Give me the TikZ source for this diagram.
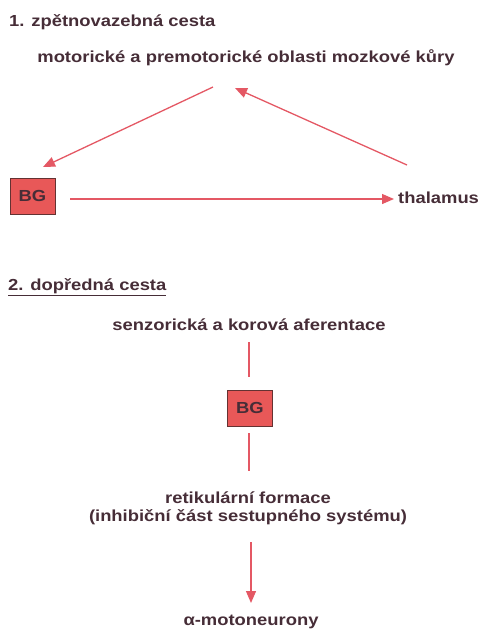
\documentclass[tikz,border=0pt]{standalone}
\usepackage{fontspec}
\setmainfont{Liberation Sans}[FakeStretch=1.15]
\usetikzlibrary{arrows.meta}
\definecolor{txt}{RGB}{70,45,55}
\definecolor{arr}{RGB}{228,88,100}
\definecolor{bgfill}{RGB}{232,88,88}
\definecolor{bgdraw}{RGB}{100,50,50}
\tikzset{
  lbl/.style={text=txt, font=\fontsize{16}{18}\selectfont\bfseries, inner sep=0pt},
  ttl/.style={lbl, anchor=west},
  bgbox/.style={draw=bgdraw, fill=bgfill, line width=1pt, minimum width=45pt, minimum height=36pt, text=txt, font=\fontsize{16}{18}\selectfont\bfseries, inner sep=0pt},
  con/.style={draw=arr, line width=1.3pt},
  conarr/.style={con, -{Triangle[length=12pt,width=10pt]}},
}
\begin{document}
\begin{tikzpicture}[x=1pt,y=-1pt]
\useasboundingbox (0,0) rectangle (480,630);
% part 1
\node[ttl] (t1) at (9,22) {1. zpětnovazebná cesta};
\node[lbl] (cortex) at (246,58) {motorické a premotorické oblasti mozkové kůry};
\node[bgbox] (bg1) at (32.5,196) {BG};
\node[lbl, anchor=west] (thal) at (398,198) {thalamus};
\coordinate (c1s) at (213,87);
\coordinate (c1e) at (43,167);
\coordinate (c2s) at (407,165);
\coordinate (c2e) at (235,88);
\coordinate (c3s) at (70,199);
\coordinate (c3e) at (394,199);
\draw[conarr] (c1s) -- (c1e);
\draw[conarr] (c2s) -- (c2e);
\draw[conarr] (c3s) -- (c3e);
% part 2
\node[ttl] (t2) at (8,287) {\underline{2. dopředná cesta}};
\node[lbl] (senz) at (249,325) {senzorická a korová aferentace};
\node[bgbox] (bg2) at (250,408) {BG};
\node[lbl, align=center] (ret) at (248,508) {retikulární formace\\(inhibiční část sestupného systému)};
\node[lbl] (alpha) at (251,622) {α-motoneurony};
\coordinate (l1s) at (249,342);
\coordinate (l1e) at (249,377);
\coordinate (l2s) at (249,433);
\coordinate (l2e) at (249,471);
\coordinate (l3s) at (251,542);
\coordinate (l3e) at (251,603);
\draw[con] (l1s) -- (l1e);
\draw[con] (l2s) -- (l2e);
\draw[conarr] (l3s) -- (l3e);
\end{tikzpicture}
\end{document}
